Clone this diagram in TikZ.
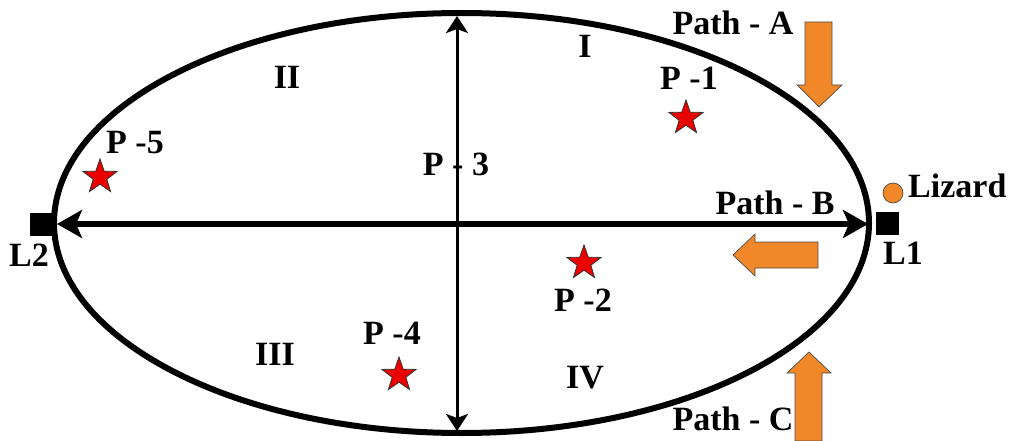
\documentclass[tikz,border=0pt]{standalone}
\usepackage{fontspec}
\setmainfont{Liberation Serif}
\usetikzlibrary{shapes.geometric,arrows.meta}
\definecolor{orng}{RGB}{240,135,40}
\definecolor{starred}{RGB}{235,0,0}
\tikzset{
  lbl/.style={font=\bfseries\fontsize{34}{38}\selectfont, inner sep=0pt, anchor=center},
  pstar/.style={star, star points=5, star point ratio=2.5, minimum size=36pt, inner sep=0pt, fill=starred, draw=black!80, line width=0.8pt},
  sq/.style={rectangle, fill=black, minimum size=23pt, inner sep=0pt},
  blockarrow/.style={fill=orng, draw=black!70, line width=0.7pt, line join=miter},
  dot/.style={circle, fill=orng, draw=black!70, line width=0.7pt, minimum size=20pt, inner sep=0pt}
}
\begin{document}
\begin{tikzpicture}[x=1pt,y=-1pt]
\useasboundingbox (0,0) rectangle (1017,441);
% ellipse
\draw[line width=6pt] (461.5,223) ellipse [x radius=407.5, y radius=210];
% axes
\coordinate (hl) at (57,224);
\coordinate (hr) at (868,224);
\coordinate (vt) at (457,16);
\coordinate (vb) at (457,431);
\draw[line width=3pt, {Stealth[length=17pt,width=22pt,inset=4pt]}-{Stealth[length=17pt,width=22pt,inset=4pt]}] (vt) -- (vb);
\draw[line width=6pt, {Stealth[length=25pt,width=28pt,inset=6pt]}-{Stealth[length=25pt,width=28pt,inset=6pt]}] (hl) -- (hr);
% squares
\node[sq] (L1sq) at (887.5,223.5) {};
\node[sq] (L2sq) at (41.5,224) {};
\node[lbl] (L1) at (903,253) {L1};
\node[lbl] (L2) at (29,255) {L2};
% lizard
\node[dot] (liz) at (893,193) {};
\node[lbl, anchor=west] (lizt) at (908,186) {Lizard};
% region labels
\node[lbl] (r1) at (585,46) {I};
\node[lbl] (r2) at (287,77) {II};
\node[lbl] (r3) at (275,354) {III};
\node[lbl] (r4) at (585,378) {IV};
% stars and P labels
\node[pstar] (s1) at (686,118) {};
\node[lbl] (p1) at (689,78) {P -1};
\node[pstar] (s2) at (584,263) {};
\node[lbl] (p2) at (583,300) {P -2};
\node[lbl] (p3) at (456,164) {P - 3};
\node[pstar] (s4) at (399,375) {};
\node[lbl] (p4) at (392,333) {P -4};
\node[pstar] (s5) at (100,177) {};
\node[lbl] (p5) at (135,143) {P -5};
% path labels
\node[lbl] (pa) at (733,23) {Path - A};
\node[lbl] (pb) at (775,203) {Path - B};
\node[lbl] (pc) at (733,419) {Path - C};
% orange block arrows
\draw[blockarrow] (805,22) -- (832,22) -- (832,85) -- (842,85) -- (819,107) -- (797,85) -- (805,85) -- cycle;
\draw[blockarrow] (818,242) -- (818,268) -- (755,268) -- (755,276) -- (733,255) -- (755,234) -- (755,242) -- cycle;
\draw[blockarrow] (795,441) -- (795,373) -- (787,373) -- (809,352) -- (831,373) -- (822,373) -- (822,441) -- cycle;
\end{tikzpicture}
\end{document}
